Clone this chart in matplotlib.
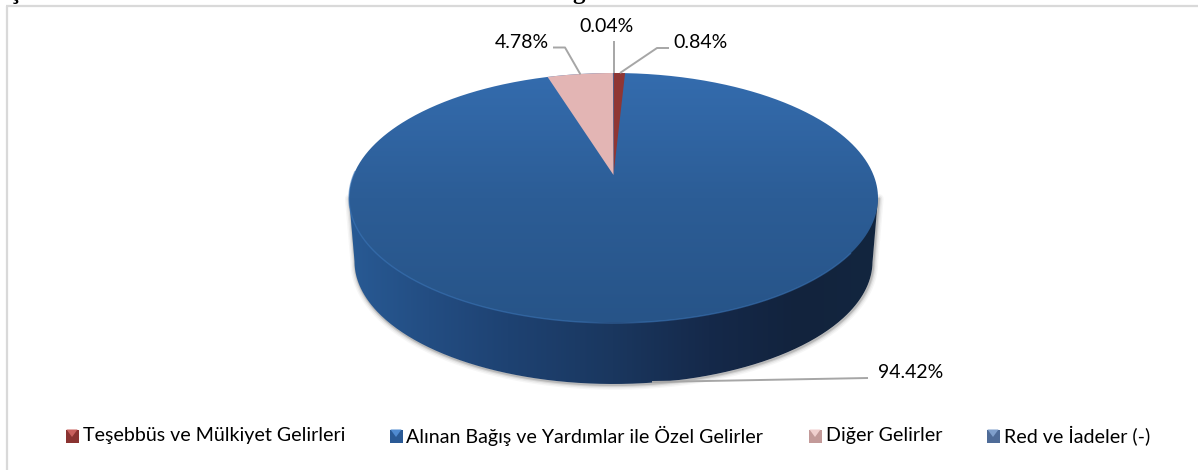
import numpy as np
import matplotlib
matplotlib.use("Agg")
import matplotlib.pyplot as plt
from matplotlib.colors import LinearSegmentedColormap as LSC
from matplotlib.patches import PathPatch, Rectangle, Polygon
from matplotlib.path import Path

categories = ["Teşebbüs ve Mülkiyet Gelirleri", "Alınan Bağış ve Yardımlar ile Özel Gelirler",
              "Diğer Gelirler", "Red ve İadeler (-)"]
values = [0.84, 94.42, 4.78, 0.04]
value_labels = ["0.84%", "94.42%", "4.78%", "0.04%"]
colors = ["#8f3634", "#2d609b", "#e3b5b4", "#4a6c9e"]
marker_light = ["#c9605d", "#4f8ad0", "#f0cfce", "#7f9fcb"]
marker_dark = ["#8a3331", "#2a5a96", "#c39a99", "#4f6c98"]

plt.rcParams["font.family"] = ["Lato", "DejaVu Sans"]
fig = plt.figure(figsize=(11.98, 4.70), dpi=100)
ax = fig.add_axes([0, 0, 1, 1])
ax.set_xlim(0, 1198)
ax.set_ylim(470, 0)
ax.axis("off")

# perspective projection of the pie disc
K = 0.184
CX = 613.5
APEX_TOP = 175.0
A_TOP, B_TOP = 264.5 * np.sqrt(1 - K**2), 102 * (1 + K)
A_LOW, B_LOW = 259 * np.sqrt(1 - K**2), 100 * (1 + K)
APEX_LOW = 384 - B_LOW / (1 - K)


def project(theta, a=A_TOP, b=B_TOP, cy=APEX_TOP):
    """theta clockwise from 12 o'clock, radians"""
    x, y = np.sin(theta), np.cos(theta)
    d = 1 + K * y
    return CX + a * x / d, cy - b * y / d


def wedge(t0, t1):
    t = np.linspace(t0, t1, max(4, int(abs(t1 - t0) * 120)))
    X, Y = project(t)
    return np.vstack([[CX, APEX_TOP], np.column_stack([X, Y]), [CX, APEX_TOP]])


def closed_path(pts):
    return Path(np.vstack([pts, pts[0]]))


def gradient(path, stops, vertical, extent, z):
    cm = LSC.from_list("g", stops)
    g = np.linspace(0, 1, 256)
    g = g[:, None] if vertical else g[None, :]
    im = ax.imshow(g, cmap=cm, extent=extent, aspect="auto", zorder=z, interpolation="bilinear")
    clip = PathPatch(path, transform=ax.transData, fc="none", ec="none")
    ax.add_patch(clip)
    im.set_clip_path(clip)
    return im


tt = np.linspace(0, 2 * np.pi, 721)
low = np.column_stack(project(tt, A_LOW, B_LOW, APEX_LOW))
top = np.column_stack(project(tt))

# lower outline from its right extreme through the bottom to its left extreme
il, ir = np.argmin(top[:, 0]), np.argmax(top[:, 0])
jl, jr = np.argmin(low[:, 0]), np.argmax(low[:, 0])
low_front = low[jr:jl + 1]
outline = np.vstack([top[ir], low_front, top[il]])

# soft shadow under the body
for w, al in [(7, 0.05), (5, 0.08), (3, 0.14), (1.5, 0.22)]:
    ax.plot(outline[:, 0] + 0.8, outline[:, 1] + 1.0, color="#555555", lw=w, alpha=al,
            zorder=1, solid_capstyle="round")

# body side
gradient(closed_path(outline),
         [(0, "#285a94"), (0.15, "#234d82"), (0.30, "#1e4272"), (0.50, "#1a375f"),
          (0.68, "#15294a"), (0.85, "#12233d"), (1, "#13263f")],
         False, (349, 878, 470, 0), 2)

# top surface
gradient(closed_path(top),
         [(0, "#346cae"), (0.5, "#2c5d96"), (1, "#275488")],
         True, (340, 890, 322, 73), 3)

# slices on the top surface, clockwise from 12 o'clock
edges = np.concatenate([[0], np.cumsum(values)]) / np.sum(values) * 2 * np.pi
for i, v in enumerate(values):
    if i == 1:
        continue  # gradient disc above shows this slice
    ax.add_patch(Polygon(wedge(edges[i], edges[i + 1]), closed=True, fc=colors[i], ec="none", zorder=4))

# rim highlight at the front
mask = (tt > np.radians(125)) & (tt < np.radians(272))
ax.plot(top[mask, 0], top[mask, 1], color="#3d78bb", lw=1.0, alpha=0.55, zorder=5)

# leader lines
leaders = [
    ([620, 657, 669], [73, 48, 48]),
    ([652, 868], [382, 378]),
    ([580.5, 565, 553], [74.5, 47.5, 47.5]),
    ([613.5, 613.5], [41, 73]),
]
for xs, ys in leaders:
    ax.plot(xs, ys, color="#a6a6a6", lw=1.4, zorder=6, solid_capstyle="butt")

label_pos = [(700, 42), (911, 372), (522, 42), (607, 26)]
for s, (x, y) in zip(value_labels, label_pos):
    ax.text(x, y, s, ha="center", va="center", fontsize=14.0, color="#000000", zorder=7)

# legend
legend_x = [65.5, 389.5, 808.5, 986.5]
text_x = [83, 406, 826, 1004]
LEG_Y = 436
for i, name in enumerate(categories):
    x = legend_x[i]
    ax.add_patch(Rectangle((x, LEG_Y - 6.5), 13, 13, fc=marker_dark[i], ec="none", zorder=6))
    ax.add_patch(Polygon([(x + 1, LEG_Y - 6.5), (x + 12, LEG_Y - 6.5), (x + 6.5, LEG_Y + 1)],
                         closed=True, fc=marker_light[i], ec="none", zorder=7))
    ax.text(text_x[i], LEG_Y, name, ha="left", va="center", fontsize=14.1, color="#000000", zorder=7)

# frame of the chart area
ax.plot([7, 7], [470, 6], color="#d9d9d9", lw=1.6, zorder=1, solid_capstyle="butt")
ax.plot([6, 1198], [6, 6], color="#d9d9d9", lw=1.6, zorder=1, solid_capstyle="butt")

# title line above the chart, cut off by the top edge of the picture as in the reference
for s, x in [("ş", 10), ("g", 572)]:
    ax.text(x, -1, s, ha="left", va="baseline", fontsize=18, fontweight="bold",
            family="Liberation Serif", color="#000000", clip_on=False)

ax.set_xlim(0, 1198)
ax.set_ylim(470, 0)
fig.savefig("out.png", dpi=100, facecolor="white")
